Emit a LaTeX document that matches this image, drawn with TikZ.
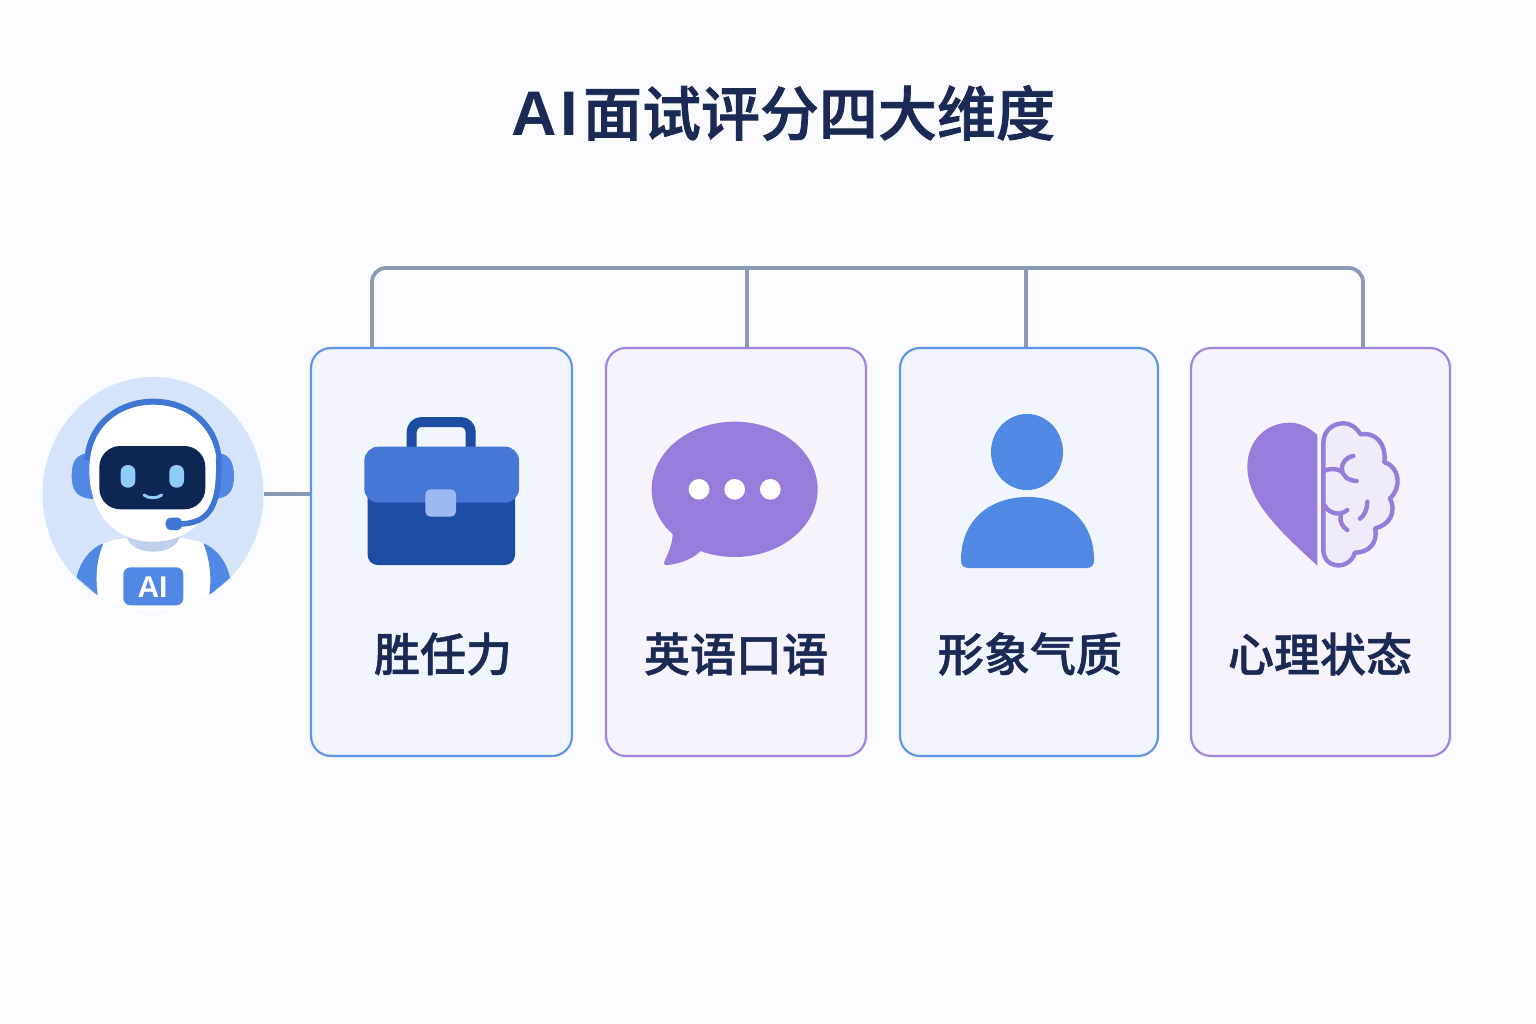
\documentclass[tikz,border=0pt]{standalone}
\usepackage{fontspec}
\setmainfont{Noto Sans CJK SC Medium}
\newfontfamily\latinbold{Liberation Sans}
\newfontfamily\titlecjk{Noto Sans CJK SC Medium}[FakeBold=1.4]
\newfontfamily\captioncjk{Noto Sans CJK SC Medium}[FakeBold=1.1]
\usetikzlibrary{shapes.geometric}
\definecolor{pagebg}{HTML}{F9FBFE}
\definecolor{ink}{HTML}{1A2A54}
\definecolor{linkgray}{HTML}{8A9AB6}
\definecolor{blueedge}{HTML}{5F95E8}
\definecolor{bluefill}{HTML}{F1F6FE}
\definecolor{violetedge}{HTML}{A186DD}
\definecolor{violetfill}{HTML}{F6F3FD}
\definecolor{azure}{HTML}{5088E4}
\definecolor{violet}{HTML}{967CDB}
\definecolor{halo}{HTML}{D5E4FA}
\definecolor{visor}{HTML}{0D2654}
\definecolor{eyeblue}{HTML}{90CAF9}
\definecolor{bandblue}{HTML}{3F75D3}
\definecolor{caseblue}{HTML}{1C4DA2}
\definecolor{flapblue}{HTML}{4677D4}
\definecolor{clasp}{HTML}{9BBAF4}
\definecolor{neck}{HTML}{BFD0EA}
\definecolor{brainfill}{HTML}{EFEBFA}
\tikzset{
  card/.style={draw,line width=2.2pt,rounded corners=20pt,minimum height=408pt,inner sep=0pt},
  bluecard/.style={card,draw=blueedge,fill=bluefill},
  violetcard/.style={card,draw=violetedge,fill=violetfill},
  link/.style={draw=linkgray,line width=3.8pt},
  cardlabel/.style={text=ink,font=\captioncjk\fontsize{46}{46}\selectfont,inner sep=0pt},
  zoomed/.style={x=.33333pt,y=-.33333pt},
  brainline/.style={draw=violet,line width=4.4pt,line cap=round,line join=round}
}
\begin{document}
\begin{tikzpicture}[x=1pt,y=-1pt]
\useasboundingbox (0,0) rectangle (1536,1024);
\fill[pagebg] (0,0) rectangle (1536,1024);

\node[text=ink,font=\titlecjk\fontsize{59}{59}\selectfont,inner sep=0pt] (title) at (783,113)
  {{\latinbold\fontsize{63}{63}\selectfont\bfseries A\kern4pt I}\kern5pt 面试评分四大维度};

% Cards
\node[bluecard,minimum width=261pt] (c1) at (441.5,552) {};
\node[violetcard,minimum width=260pt] (c2) at (736,552) {};
\node[bluecard,minimum width=258pt] (c3) at (1029,552) {};
\node[violetcard,minimum width=259pt] (c4) at (1320.5,552) {};

% Robot badge background
\node[ellipse,fill=halo,minimum width=221pt,minimum height=234pt,inner sep=0pt] (robot) at (153,494) {};

% Connectors
\coordinate (bar1) at (372,268);
\coordinate (bar2) at (747,268);
\coordinate (bar3) at (1026,268);
\coordinate (bar4) at (1363,268);
\draw[link,rounded corners=14pt] (c1.north -| bar1) -- (bar1) -- (bar4) -- (c4.north -| bar4);
\draw[link] (bar2) -- (c2.north -| bar2);
\draw[link] (bar3) -- (c3.north -| bar3);
\draw[link] (robot.east) -- (robot.east -| c1.west);

% Robot figure
\begin{scope}
  \clip (153,494) ellipse [x radius=110.5, y radius=117];
  \begin{scope}[shift={(30,370)},zoomed]
    \fill[white] (205,680) .. controls (195,600) and (205,540) .. (220,520)
      .. controls (300,490) and (440,490) .. (520,520)
      .. controls (535,540) and (545,600) .. (538,680) -- (538,740) -- (205,740) -- cycle;
    \fill[azure] (140,622) .. controls (150,575) and (180,535) .. (220,520)
      .. controls (200,570) and (195,620) .. (203,676) -- cycle;
    \fill[azure] (600,624) .. controls (590,575) and (560,535) .. (520,520)
      .. controls (540,570) and (545,620) .. (538,676) -- cycle;
    \fill[neck] (290,500) .. controls (305,560) and (435,560) .. (450,500) -- cycle;
    % ear pads
    \fill[azure] (190,250) -- (170,250) .. controls (135,255) and (125,280) .. (125,318)
      .. controls (125,360) and (140,385) .. (190,387) -- cycle;
    \fill[azure] (550,250) -- (570,250) .. controls (600,255) and (612,280) .. (612,318)
      .. controls (612,360) and (600,385) .. (550,387) -- cycle;
    % headband
    \draw[bandblue,line width=6pt] (172,270) .. controls (178,160) and (270,95) .. (370,95)
      .. controls (470,95) and (560,160) .. (566,270);
    % head
    \fill[white] (370,515) .. controls (255,515) and (178,430) .. (178,300)
      .. controls (178,180) and (260,105) .. (370,105)
      .. controls (480,105) and (562,180) .. (562,300)
      .. controls (562,430) and (485,515) .. (370,515) -- cycle;
    % boom microphone
    \draw[bandblue,line width=5.5pt] (566,262) .. controls (570,400) and (545,462) .. (445,462);
    \fill[bandblue] (424,443) -- (445,443) .. controls (460,443) and (460,480) .. (445,480)
      -- (424,480) .. controls (400,480) and (400,443) .. (424,443) -- cycle;
    % face
    \fill[visor,rounded corners=21pt] (208,228) rectangle (526,418);
    \fill[eyeblue,rounded corners=7pt] (272,285) rectangle (316,353);
    \fill[eyeblue,rounded corners=7pt] (418,285) rectangle (462,353);
    \draw[eyeblue,line width=3pt,line cap=round] (342,375) .. controls (355,386) and (382,386) .. (395,375);
    % chest plate
    \fill[azure,rounded corners=7pt] (280,592) rectangle (460,706);
  \end{scope}
  \node[text=white,font=\latinbold\bfseries\fontsize{30}{30}\selectfont,inner sep=0pt] (chest) at (152.5,587) {AI};
\end{scope}

% Briefcase
\begin{scope}[shift={(350,400)},zoomed]
  \draw[caseblue,line width=10pt,rounded corners=10pt] (185,150) -- (185,66) -- (362,66) -- (362,150);
  \fill[caseblue,rounded corners=10pt] (53,220) rectangle (495,495);
  \fill[flapblue,rounded corners=14pt] (43,140) rectangle (507,308);
  \fill[clasp,rounded corners=5pt] (226,268) rectangle (318,350);
\end{scope}

% Speech bubble
\begin{scope}[shift={(640,400)},zoomed]
  \fill[violet] (98,400) .. controls (98,430) and (85,460) .. (73,485)
    .. controls (70,493) and (75,497) .. (85,495)
    .. controls (125,490) and (160,475) .. (182,453) -- (150,380) -- cycle;
  \fill[violet] (284,268) ellipse [x radius=249, y radius=203];
  \fill[white] (177,268) circle [radius=31];
  \fill[white] (284,268) circle [radius=31];
  \fill[white] (391,268) circle [radius=31];
\end{scope}

% Person
\fill[azure] (1027,452) ellipse [x radius=36, y radius=38];
\fill[azure] (961,560) .. controls (961,520) and (990,497) .. (1027.5,497)
  .. controls (1065,497) and (1094,520) .. (1094,560)
  .. controls (1094,566) and (1091,568) .. (1086,568) -- (969,568)
  .. controls (964,568) and (961,566) .. (961,560) -- cycle;

% Half heart and half brain
\begin{scope}[shift={(1230,400)},zoomed]
  \fill[violet] (262,105) .. controls (235,80) and (205,68) .. (180,68)
    .. controls (105,68) and (52,125) .. (52,200)
    .. controls (52,300) and (140,385) .. (262,497) -- cycle;
  \path[fill=brainfill,brainline] (280,130)
    .. controls (280,90) and (310,70) .. (340,70)
    .. controls (365,70) and (380,85) .. (392,103)
    .. controls (435,95) and (470,130) .. (463,187)
    .. controls (510,200) and (515,265) .. (480,295)
    .. controls (500,335) and (480,375) .. (435,385)
    .. controls (445,430) and (415,458) .. (375,458)
    .. controls (365,490) and (335,500) .. (315,495)
    .. controls (295,492) and (280,475) .. (280,450) -- cycle;
  \draw[brainline] (370,168) .. controls (325,175) and (320,240) .. (380,243);
  \draw[brainline] (283,212) .. controls (300,205) and (322,205) .. (336,215);
  \draw[brainline] (283,315) .. controls (295,340) and (330,350) .. (352,330);
  \draw[brainline] (332,345) .. controls (328,365) and (338,382) .. (352,390);
  \draw[brainline] (412,305) .. controls (412,325) and (405,345) .. (390,356);
\end{scope}

% Card captions
\node[cardlabel] (l1) at (443,654) {胜任力};
\node[cardlabel] (l2) at (736,654) {英语口语};
\node[cardlabel] (l3) at (1030,654) {形象气质};
\node[cardlabel] (l4) at (1320,654) {心理状态};
\end{tikzpicture}
\end{document}
